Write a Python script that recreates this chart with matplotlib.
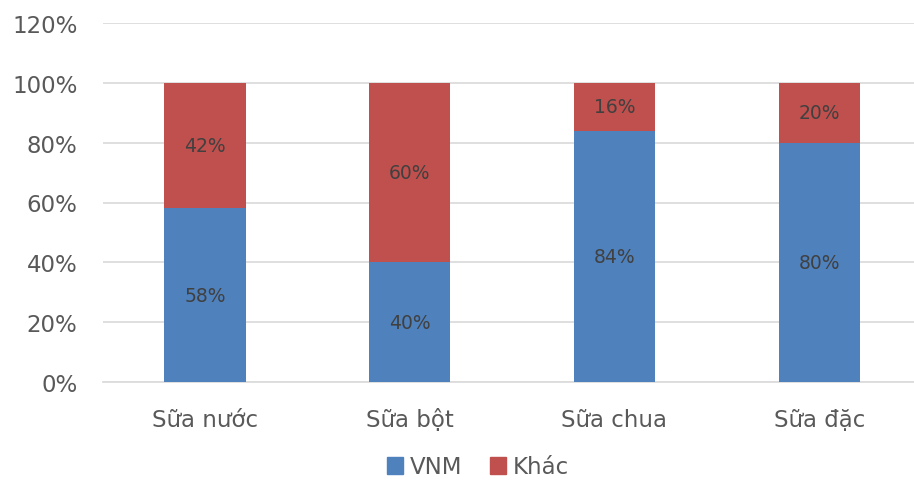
import matplotlib
matplotlib.use("Agg")
import matplotlib.pyplot as plt
from matplotlib.ticker import FuncFormatter, MultipleLocator
from matplotlib.patches import Patch

categories = ["Sữa nước", "Sữa bột", "Sữa chua", "Sữa đặc"]
vnm = [58, 40, 84, 80]
khac = [42, 60, 16, 20]
series_names = ["VNM", "Khác"]

plt.rcParams['font.family'] = ['DejaVu Sans']
blue = "#4F81BD"
red = "#C0504D"
txt = "#595959"

fig = plt.figure(figsize=(9.14, 4.85), dpi=100)
ax = fig.add_axes([102.6/914, 102/485, 819/914, 359/485])

x = list(range(len(categories)))
w = 0.396
ax.bar(x, vnm, width=w, color=blue, zorder=3)
ax.bar(x, khac, width=w, bottom=vnm, color=red, zorder=3)

for i in x:
    ax.text(i, vnm[i]/2, f"{vnm[i]}%", ha="center", va="center", fontsize=13.5, color="#404040", zorder=4)
    ax.text(i, vnm[i] + khac[i]/2, f"{khac[i]}%", ha="center", va="center", fontsize=13.5, color="#404040", zorder=4)

ax.set_xlim(-0.5, len(categories) - 0.5)
ax.set_ylim(0, 120)
ax.yaxis.set_major_locator(MultipleLocator(20))
ax.yaxis.set_major_formatter(FuncFormatter(lambda v, p: f"{int(v)}%"))
ax.grid(axis="y", color="#DCDCDC", linewidth=1.3, zorder=0)
ax.set_axisbelow(True)
for s in ["top", "right", "left"]:
    ax.spines[s].set_visible(False)
ax.spines["bottom"].set_color("#DCDCDC")
ax.spines["bottom"].set_linewidth(1.3)
ax.tick_params(axis="both", length=0, labelsize=16.5, colors=txt)
ax.tick_params(axis="y", pad=18)
ax.tick_params(axis="x", pad=19)
ax.set_xticks(x)
ax.set_xticklabels(categories)

handles = [Patch(color=blue), Patch(color=red)]
fig.legend(handles, series_names, loc="center", bbox_to_anchor=(478/914, 1 - 468/485),
           ncol=2, frameon=False, fontsize=16.5, labelcolor=txt,
           handlelength=0.7, handleheight=0.7, handletextpad=0.3, columnspacing=1.2)

fig.savefig("out.png", dpi=100)
